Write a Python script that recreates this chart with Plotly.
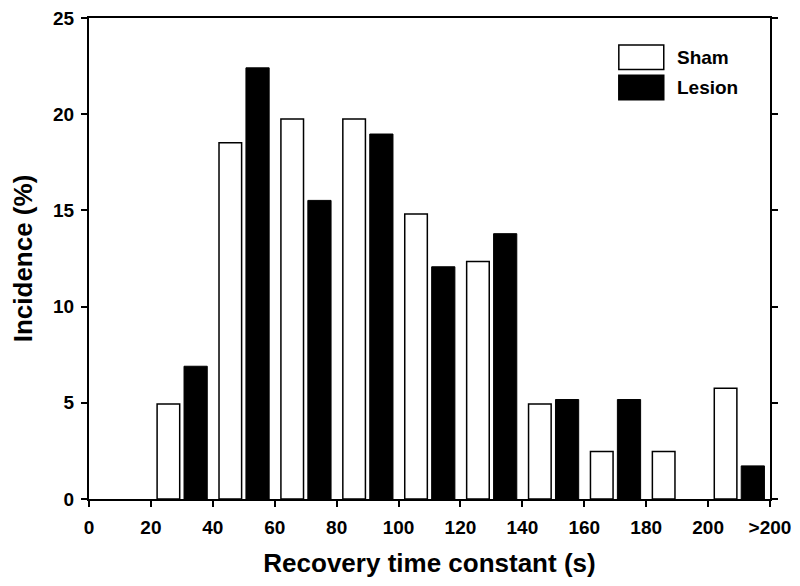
import plotly.graph_objects as go

bin_centers = [10, 30, 50, 70, 90, 110, 130, 150, 170, 190, 210]
sham = [0, 4.94, 18.52, 19.75, 19.75, 14.81, 12.35, 4.94, 2.47, 2.47, 5.75]
lesion = [0, 6.90, 22.41, 15.52, 18.97, 12.07, 13.79, 5.17, 5.17, 0, 1.72]
tick_vals = [0, 20, 40, 60, 80, 100, 120, 140, 160, 180, 200, 220]
tick_text = ["0", "20", "40", "60", "80", "100", "120", "140", "160", "180", "200", ">200"]

FONT = "Arial, Liberation Sans, Helvetica, sans-serif"


def nz(vals):
    # empty bins are drawn as nothing (no outline at zero)
    return [v if v > 0 else None for v in vals]


fig = go.Figure()
fig.add_trace(go.Bar(
    x=bin_centers, y=nz(sham), name="Sham", offset=-8.0, width=7.3,
    marker=dict(color="white", line=dict(color="black", width=1.5)),
    showlegend=False))
fig.add_trace(go.Bar(
    x=bin_centers, y=nz(lesion), name="Lesion", offset=0.7, width=7.5,
    marker=dict(color="black", line=dict(color="black", width=1.0)),
    showlegend=False))

# custom legend (large swatches like the original)
legend_items = [("Sham", "white"), ("Lesion", "black")]
for i, (label, col) in enumerate(legend_items):
    y0 = 0.944 - i * 0.063
    fig.add_shape(type="rect", xref="paper", yref="paper",
                  x0=0.778, x1=0.844, y0=y0 - 0.051, y1=y0,
                  fillcolor=col, line=dict(color="black", width=1.5))
    fig.add_annotation(text=label, xref="paper", yref="paper",
                       x=0.860, y=y0 - 0.026, xanchor="left", yanchor="middle",
                       showarrow=False,
                       font=dict(family=FONT, size=19, color="black", weight="bold"))

fig.update_layout(
    width=800, height=586,
    margin=dict(l=81, r=38, t=10, b=95),
    paper_bgcolor="white", plot_bgcolor="white",
    font=dict(family=FONT, color="black"),
)
fig.update_xaxes(
    range=[0, 220], tickvals=tick_vals, ticktext=tick_text,
    automargin=False, ticklabeloverflow="allow", ticklabelstandoff=4,
    showgrid=False, zeroline=False,
    showline=True, linecolor="black", linewidth=2, mirror=True,
    ticks="outside", ticklen=6, tickwidth=2, tickcolor="black",
    tickfont=dict(family=FONT, size=19, weight="bold"),
    title=dict(text="Recovery time constant (s)", standoff=17,
               font=dict(family=FONT, size=26, weight="bold")),
)
fig.update_yaxes(
    range=[0, 25], tickvals=[0, 5, 10, 15, 20, 25],
    automargin=False, ticklabeloverflow="allow", ticklabelstandoff=3,
    showgrid=False, zeroline=False,
    showline=True, linecolor="black", linewidth=2, mirror="ticks",
    ticks="outside", ticklen=6, tickwidth=2, tickcolor="black",
    tickfont=dict(family=FONT, size=19, weight="bold"),
    title=dict(text="Incidence (%)", standoff=20,
               font=dict(family=FONT, size=26, weight="bold")),
)

fig.write_html("out.html")
